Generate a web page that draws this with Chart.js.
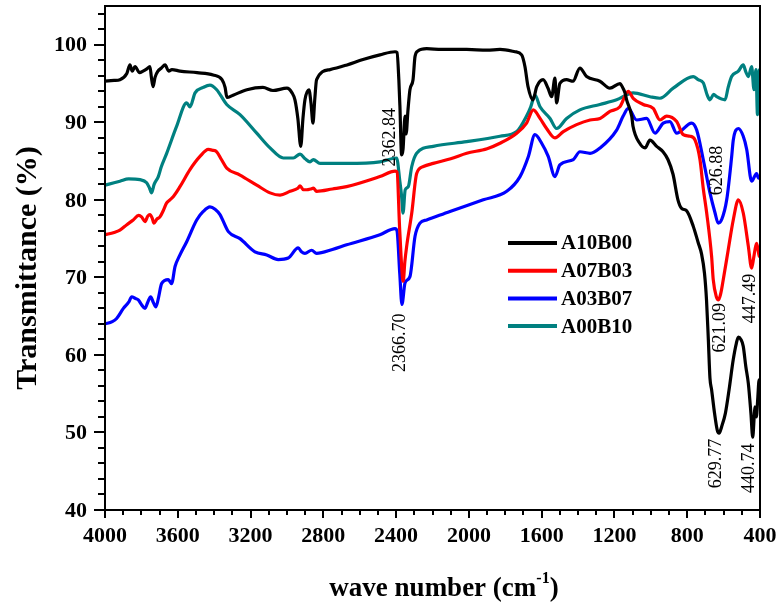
<!DOCTYPE html>
<html>
<head>
<meta charset="utf-8">
<script src="https://cdn.jsdelivr.net/npm/chart.js@4/dist/chart.umd.min.js"></script>
<style>
  html, body { margin: 0; padding: 0; background: #fff; }
  canvas { display: block; }
</style>
</head>
<body>
<canvas id="c" width="780" height="610"></canvas>
<script>
// ---------------- DATA ----------------
const seriesNames = ["A10B00", "A07B03", "A03B07", "A00B10"];

const a10b00Wn = [4000,3950,3918,3880,3863,3850,3835,3810,3791,3770,3753,3745,3736,3725,3709,3690,3670,3650,3632,3588,3494,3406,3357,3340,3330,3296,3220,3132,3077,3000,2972,2956,2940,2924,2912,2901,2879,2868,2857,2847,2837,2763,2670,2582,2489,2406,2395,2385,2379,2370,2362,2351,2345,2335,2324,2307,2296,2280,2232,2150,2012,1900,1829,1747,1710,1692,1675,1648,1627,1592,1565,1545,1527,1518,1500,1463,1428,1390,1353,1280,1225,1170,1153,1142,1133,1105,1098,1061,1032,1005,968,933,906,878,851,831,804,767,740,721,705,694,684,675,666,650,635,625,610,590,570,547,530,519,505,492,478,464,450,440,432,428,420,412,405,400];
const a10b00T  = [95.3,95.4,95.5,96.3,97.4,96.6,97.2,96.4,96.6,96.9,97.2,95.8,94.6,95.8,96.6,97.0,97.4,96.6,96.8,96.6,96.4,96.1,95.5,94.5,93.2,93.5,94.2,94.5,94.1,94.4,93.8,92.9,90.5,86.9,90.5,92.9,94.2,92.5,89.9,93.0,95.5,96.8,97.4,98.1,98.7,99.1,99.0,95.5,92.0,85.8,86.5,90.8,88.5,91.5,94.2,95.5,98.5,99.2,99.5,99.4,99.4,99.3,99.4,99.1,98.7,97.2,94.6,92.9,94.6,95.5,94.4,93.3,95.7,92.5,95.0,95.5,95.3,97.0,95.9,95.3,94.4,95.0,94.4,93.8,92.9,90.8,89.5,87.3,86.7,87.7,86.9,86.2,85.2,83.3,80.0,78.9,78.6,76.6,74.5,73.0,70.5,67.1,62.0,57.0,55.5,52.5,50.3,49.9,50.8,52.5,55.5,59.4,61.5,62.3,62.0,61.1,58.5,56.3,52.5,49.4,52.0,53.3,52.0,54.5,56.8,56.7];

const a07b03Wn = [4000,3950,3918,3880,3845,3815,3799,3780,3765,3753,3740,3731,3715,3698,3680,3661,3643,3625,3588,3533,3478,3432,3410,3386,3360,3331,3258,3166,3093,3038,2983,2940,2928,2910,2891,2870,2855,2837,2750,2672,2489,2406,2395,2380,2361,2352,2342,2314,2287,2250,2196,2100,2012,1900,1829,1737,1683,1646,1609,1573,1527,1481,1408,1334,1279,1225,1170,1124,1097,1042,987,950,913,858,822,785,757,730,712,693,666,657,640,628,615,602,575,547,519,492,464,446,435,428,419,410,404,400];
const a07b03T  = [75.5,75.8,76.1,76.8,77.4,78.0,77.8,77.2,77.9,78.1,77.6,77.0,77.5,77.8,78.6,79.6,80.0,80.4,81.7,83.9,85.6,86.5,86.4,86.2,85.2,84.1,83.2,81.9,80.9,80.6,81.1,81.5,81.8,81.3,81.3,81.4,81.5,81.1,81.4,81.7,83.0,83.7,83.6,76.0,69.5,72.0,74.0,78.3,83.4,84.3,84.7,85.3,86.0,86.6,87.3,88.6,89.9,91.6,90.5,89.2,88.0,88.8,89.7,90.3,90.5,91.4,92.0,94.0,93.1,92.3,91.8,90.3,90.8,90.1,88.4,88.2,87.7,85.2,81.5,78.3,72.7,69.7,67.5,67.1,68.0,69.7,73.5,77.4,80.0,78.3,74.0,71.2,72.5,73.5,74.4,73.5,72.7,73.0];

const a03b07Wn = [4000,3960,3936,3899,3870,3853,3835,3817,3800,3780,3765,3749,3735,3720,3705,3689,3652,3634,3615,3590,3551,3496,3460,3423,3395,3368,3322,3258,3176,3111,3048,2993,2938,2920,2901,2864,2837,2750,2672,2489,2406,2395,2380,2368,2351,2324,2296,2269,2232,2104,1921,1792,1719,1673,1637,1600,1564,1527,1500,1426,1390,1334,1279,1188,1152,1124,1078,1023,977,932,895,858,840,776,748,712,675,647,630,610,583,556,547,519,492,473,446,419,408,400];
const a03b07T  = [64.0,64.3,64.7,66.0,66.8,67.5,67.3,67.1,66.5,66.0,66.8,67.5,66.8,66.2,67.5,69.2,69.7,69.2,71.4,72.8,74.6,77.4,78.5,79.1,78.8,78.1,75.9,75.0,73.3,72.9,72.3,72.5,73.8,73.3,73.1,73.5,73.1,73.6,74.2,75.5,76.3,76.0,70.5,66.5,69.3,70.1,75.3,77.0,77.4,78.5,80.0,81.1,83.0,85.6,88.4,87.3,85.6,83.0,84.5,85.2,86.2,86.0,86.7,89.0,90.8,91.8,90.3,90.5,88.6,89.9,90.1,88.6,88.8,89.9,89.0,85.2,80.9,78.3,77.0,77.5,80.0,85.5,87.7,89.2,88.2,86.5,82.4,83.4,82.8,83.0];

const a00b10Wn = [4000,3950,3918,3870,3808,3771,3755,3744,3730,3707,3690,3661,3606,3551,3533,3505,3460,3423,3386,3331,3258,3166,3093,3020,2965,2928,2900,2873,2855,2818,2672,2489,2397,2380,2370,2362,2350,2333,2314,2287,2196,2012,1829,1737,1683,1660,1637,1609,1554,1518,1463,1390,1280,1188,1097,1005,950,877,767,740,712,690,675,655,638,592,575,556,519,492,478,464,446,433,422,414,408,404,400];
const a00b10T  = [81.9,82.2,82.4,82.7,82.6,82.2,81.5,80.9,82.0,83.0,84.3,86.0,89.5,92.5,92.0,93.8,94.5,94.8,94.2,92.3,91.0,88.6,86.7,85.4,85.4,85.9,85.3,84.9,85.2,84.7,84.7,84.9,85.4,82.5,80.5,78.3,81.3,81.7,84.3,86.0,86.9,87.5,88.2,88.8,90.8,92.0,93.5,92.0,90.5,89.2,90.5,91.6,92.3,92.9,93.8,93.3,93.1,94.4,95.9,95.5,95.1,93.5,92.9,93.6,93.3,92.9,94.5,95.9,96.6,97.4,96.5,95.9,97.2,94.2,96.8,91.0,93.0,96.8,91.0];

// axis ranges and ticks
const xMin = 400, xMax = 4000, xMajor = 400, xMinor = 100;
const yMin = 40, yMax = 105, yMajor = 10, yMinor = 2;

// peak annotations: label, wavenumber of text centre, transmittance at text start
const annoLabels = ["2362.84", "2366.70", "626.88", "621.09", "447.49", "629.77", "440.74"];
const annoWn     = [2439, 2384, 639, 625, 461, 647, 463];
const annoT      = [84.3, 57.8, 80.6, 60.3, 64.1, 42.8, 42.2];

const colors = ["#000000", "#ff0000", "#0000ff", "#008080"];

// ---------------- CHART ----------------
function pts(wn, t) { return wn.map((w, i) => ({ x: w, y: t[i] })); }
const wnList = [a10b00Wn, a07b03Wn, a03b07Wn, a00b10Wn];
const tList  = [a10b00T, a07b03T, a03b07T, a00b10T];

const SERIF = "'Liberation Serif', 'Times New Roman', serif";

const ftirPlugin = {
  id: 'ftir',
  afterDraw(chart) {
    const { ctx, chartArea: a, scales: { x, y } } = chart;
    ctx.save();
    ctx.strokeStyle = '#000';
    ctx.lineWidth = 2;
    ctx.lineCap = 'butt';
    ctx.strokeRect(a.left, a.top, a.right - a.left, a.bottom - a.top);
    ctx.beginPath();
    for (let v = xMin; v <= xMax; v += xMinor) {
      const px = Math.round(x.getPixelForValue(v));
      const len = (v % xMajor === 0) ? 8 : 5;
      ctx.moveTo(px, a.bottom); ctx.lineTo(px, a.bottom + len);
    }
    for (let v = yMin; v < yMax; v += yMinor) {
      const py = Math.round(y.getPixelForValue(v));
      const len = (v % yMajor === 0) ? 11 : 7;
      ctx.moveTo(a.left - len, py); ctx.lineTo(a.left, py);
    }
    ctx.stroke();

    // tick labels
    ctx.fillStyle = '#000';
    ctx.font = 'bold 22px ' + SERIF;
    ctx.textAlign = 'center';
    ctx.textBaseline = 'middle';
    x.ticks.forEach(t => {
      ctx.fillText(String(t.value), x.getPixelForValue(t.value), a.bottom + 26);
    });
    ctx.textAlign = 'right';
    y.ticks.forEach(t => {
      if (t.value % yMajor !== 0) return;
      ctx.fillText(String(t.value), a.left - 18, y.getPixelForValue(t.value) + 1);
    });

    // annotations
    ctx.font = '18px ' + SERIF;
    ctx.textAlign = 'left';
    ctx.textBaseline = 'middle';
    annoLabels.forEach((lab, i) => {
      const px = x.getPixelForValue(annoWn[i]);
      const py = y.getPixelForValue(annoT[i]);
      ctx.save();
      ctx.translate(px, py);
      ctx.rotate(-Math.PI / 2);
      ctx.fillText(lab, 0, 1);
      ctx.restore();
    });

    // legend
    ctx.font = 'bold 21px ' + SERIF;
    ctx.textBaseline = 'middle';
    chart.data.datasets.forEach((ds, i) => {
      const ly = 243 + i * 27.7;
      ctx.strokeStyle = ds.borderColor;
      ctx.lineWidth = 4;
      ctx.beginPath(); ctx.moveTo(508, ly); ctx.lineTo(557, ly); ctx.stroke();
      ctx.fillStyle = '#000';
      ctx.fillText(ds.label, 561, ly + 1);
    });

    // y axis title
    ctx.save();
    ctx.font = 'bold 30px ' + SERIF;
    ctx.textAlign = 'center';
    ctx.textBaseline = 'middle';
    ctx.translate(28, 268);
    ctx.rotate(-Math.PI / 2);
    ctx.fillText('Transmittance (%)', 0, 0);
    ctx.restore();

    // x axis title with superscript
    const main = 'wave number (cm', sup = '-1', close = ')';
    ctx.font = 'bold 27px ' + SERIF;
    const w1 = ctx.measureText(main).width, w3 = ctx.measureText(close).width;
    ctx.font = 'bold 16px ' + SERIF;
    const w2 = ctx.measureText(sup).width;
    let sx = 444 - (w1 + w2 + w3) / 2;
    const base = 596;
    ctx.textAlign = 'left';
    ctx.textBaseline = 'alphabetic';
    ctx.font = 'bold 27px ' + SERIF;
    ctx.fillText(main, sx, base);
    ctx.font = 'bold 16px ' + SERIF;
    ctx.fillText(sup, sx + w1, base - 13);
    ctx.font = 'bold 27px ' + SERIF;
    ctx.fillText(close, sx + w1 + w2, base);
    ctx.restore();
  }
};

new Chart(document.getElementById('c'), {
  type: 'line',
  data: {
    datasets: seriesNames.map((n, i) => ({
      label: n,
      data: pts(wnList[i], tList[i]),
      borderColor: colors[i],
      backgroundColor: colors[i],
      borderWidth: 3.2,
      pointRadius: 0,
      cubicInterpolationMode: 'monotone',
      borderJoinStyle: 'round',
      fill: false
    }))
  },
  options: {
    responsive: false,
    devicePixelRatio: 1,
    animation: false,
    layout: { padding: { top: 6, right: 20, left: 0, bottom: 0 } },
    plugins: { legend: { display: false }, tooltip: { enabled: false } },
    scales: {
      x: {
        type: 'linear', reverse: true, min: xMin, max: xMax,
        grid: { display: false, drawTicks: false },
        border: { display: false },
        afterFit(s) { s.height = 100; },
        ticks: { display: false, stepSize: xMajor, autoSkip: false }
      },
      y: {
        type: 'linear', min: yMin, max: yMax,
        grid: { display: false, drawTicks: false },
        border: { display: false },
        afterFit(s) { s.width = 105; },
        ticks: { display: false, stepSize: yMajor, includeBounds: false }
      }
    }
  },
  plugins: [ftirPlugin]
});
</script>
</body>
</html>
